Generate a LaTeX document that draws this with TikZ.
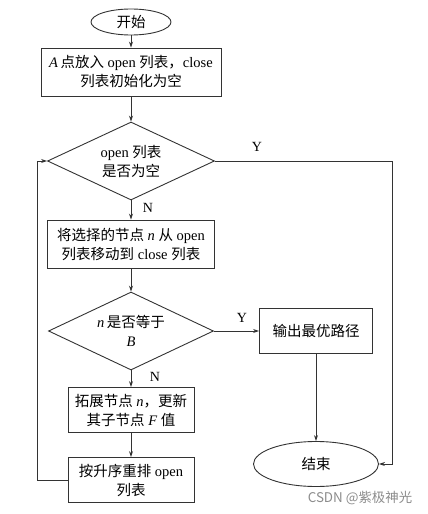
\documentclass[tikz,border=0pt]{standalone}
\usepackage{fontspec}
\setmainfont{Liberation Serif}
\newfontfamily\cjk{Noto Sans CJK SC}
\usetikzlibrary{shapes.geometric,arrows.meta}

\newcommand{\zh}[1]{{\cjk #1}}
\def \lineW {0.9pt}

\tikzset{
  procbox/.style={draw=black!80, line width=\lineW, rectangle, align=center, inner sep=0pt},
  decision/.style={draw=black!80, line width=\lineW, diamond, aspect=2.1, align=center, inner sep=0pt},
  terminal/.style={draw=black!80, line width=\lineW, ellipse, inner sep=0pt},
  link/.style={draw=black!80, line width=\lineW, -{Stealth[length=6pt,width=4pt]}},
  yn/.style={font=\fontsize{14}{16}\selectfont},
}

\begin{document}
\begin{tikzpicture}[x=1pt, y=-1pt, font=\fontsize{14.5}{19}\selectfont]
   \useasboundingbox (0,0) rectangle (428,514);

   \node[terminal, minimum width=80, minimum height=26] (start) at (131,22) {\zh{开始}};
   \node[procbox, minimum width=180, minimum height=48] (init) at (131,72)
      {\textit{A}\,\zh{点放入} open \zh{列表，}close\\\zh{列表初始化为空}};
   \node[decision, minimum width=167, minimum height=78] (check) at (131,161)
      {open \zh{列表}\\\zh{是否为空}};
   \node[procbox, minimum width=167, minimum height=48] (move) at (131,244)
      {\zh{将选择的节点} \textit{n} \zh{从} open\\\zh{列表移动到} close \zh{列表}};
   \node[decision, minimum width=165, minimum height=78] (isgoal) at (131,331)
      {\textit{n}\,\zh{是否等于}\\\textit{B}};
   \node[procbox, minimum width=113, minimum height=45] (output) at (316,331) {\zh{输出最优路径}};
   \node[terminal, minimum width=125, minimum height=45] (end) at (316,464) {\zh{结束}};
   \node[procbox, minimum width=126, minimum height=45] (expand) at (131,410)
      {\zh{拓展节点} \textit{n}\zh{，更新}\\\zh{其子节点} \textit{F} \zh{值}};
   \node[procbox, minimum width=126, minimum height=45] (sort) at (131,480)
      {\zh{按升序重排} open\\\zh{列表}};

   \coordinate (yturn) at (392,161);
   \coordinate (back) at (37,480);

   \draw[link] (start) -- (init);
   \draw[link] (init) -- (check);
   \draw[link] (check) -- (move);
   \draw[link] (check.east) -- (yturn) |- (end.east);
   \draw[link] (move) -- (isgoal);
   \draw[link] (isgoal) -- (output);
   \draw[link] (output) -- (end);
   \draw[link] (isgoal) -- (expand);
   \draw[link] (expand) -- (sort);
   \draw[link] (sort.west) -- (back) |- (check.west);

   \node[yn] (yesA) at (257,147) {Y};
   \node[yn] (noA) at (148,208) {N};
   \node[yn] (yesB) at (242,318) {Y};
   \node[yn] (noB) at (155,377) {N};

   \node[text=black!45, font=\cjk\fontsize{13.4}{15}\selectfont] (mark) at (360,498) {CSDN @紫极神光};
\end{tikzpicture}
\end{document}
